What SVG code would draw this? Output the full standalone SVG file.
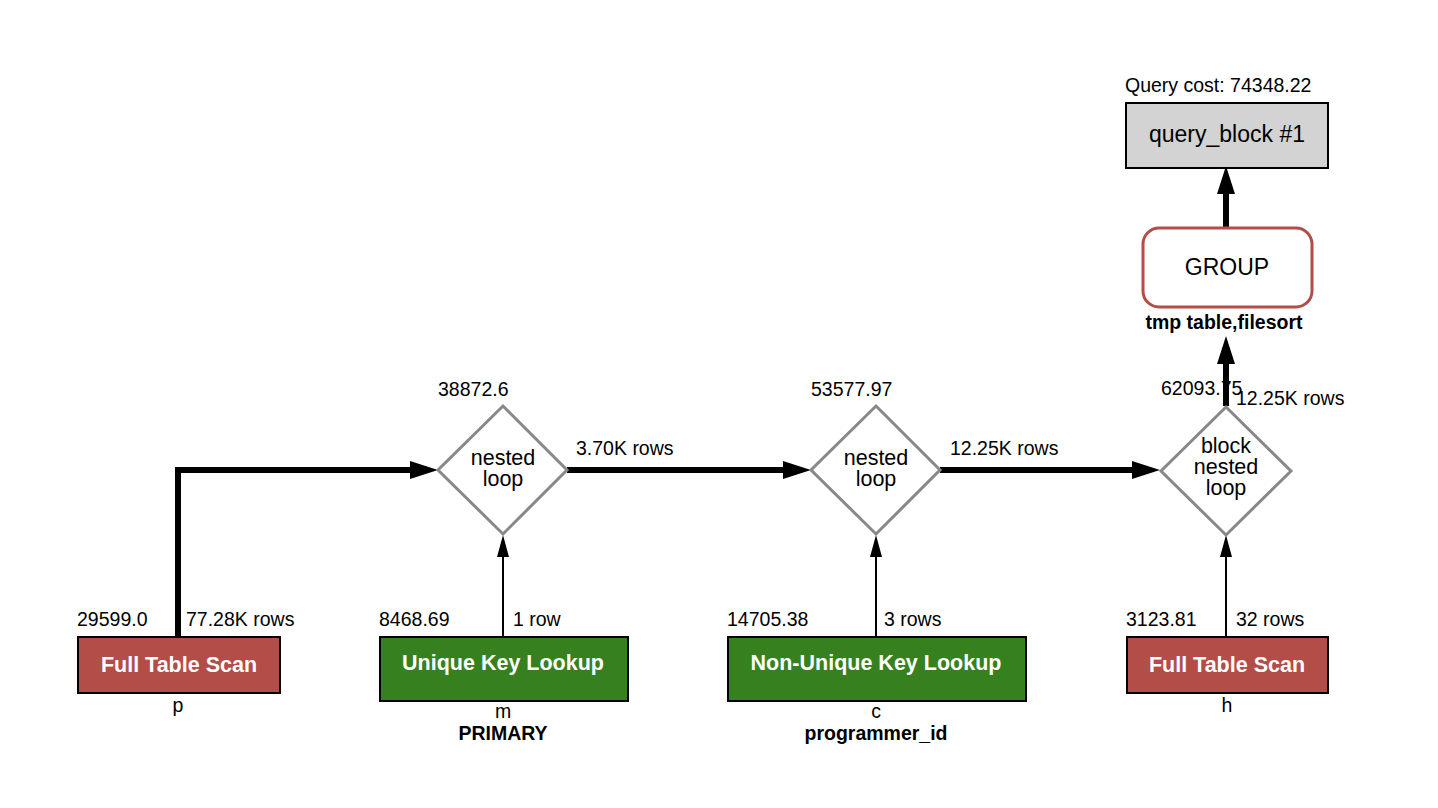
<svg xmlns="http://www.w3.org/2000/svg" width="1438" height="808" viewBox="0 0 1438 808">
<style>
  text { font-family: "Liberation Sans", Arial, Helvetica, sans-serif; fill: #000; }
  .lbl { font-size: 19.5px; }
  .blbl { font-size: 19.5px; font-weight: bold; }
  .title { font-size: 23px; text-anchor: middle; }
  .dtxt { font-size: 21.5px; text-anchor: middle; }
  .btxt { font-size: 21.5px; font-weight: bold; fill: #fff; text-anchor: middle; }
  .mid { text-anchor: middle; }
  .red { fill: #b24d48; stroke: #000; stroke-width: 2; }
  .green { fill: #378020; stroke: #000; stroke-width: 2; }
  .grey { fill: #d3d3d3; stroke: #000; stroke-width: 2; }
  .diamond { fill: #fff; stroke: #888; stroke-width: 3; }
  .thick { fill: none; stroke: #000; stroke-width: 6; marker-end: url(#ah-thick); }
  .thin { fill: none; stroke: #000; stroke-width: 2; marker-end: url(#ah-thin); }
</style>
<defs>
  <marker id="ah-thick" markerUnits="userSpaceOnUse" viewBox="0 0 28 18" refX="0" refY="9" markerWidth="28" markerHeight="18" orient="auto">
    <path d="M0,0 L28,9 L0,18 z" fill="#000"/>
  </marker>
  <marker id="ah-thin" markerUnits="userSpaceOnUse" viewBox="0 0 22 12" refX="0" refY="6" markerWidth="22" markerHeight="12" orient="auto">
    <path d="M0,0 L22,6 L0,12 z" fill="#000"/>
  </marker>
</defs>
<rect width="1438" height="808" fill="#fff"/>

<g id="connectors">
  <polyline class="thick" points="178,637 178,470 410,470"/>
  <line class="thick" x1="567" y1="470" x2="783" y2="470"/>
  <line class="thick" x1="940" y1="470" x2="1132" y2="470"/>
  <line class="thin" x1="503" y1="637" x2="503" y2="557"/>
  <line class="thin" x1="876" y1="637" x2="876" y2="557"/>
  <line class="thin" x1="1226" y1="637" x2="1226" y2="557"/>
  <line class="thick" x1="1226" y1="406" x2="1226" y2="364"/>
  <line class="thick" x1="1226" y1="228" x2="1226" y2="194"/>
  <text class="lbl" x="186" y="626">77.28K rows</text>
  <text class="lbl" x="576" y="455">3.70K rows</text>
  <text class="lbl" x="950" y="455">12.25K rows</text>
  <text class="lbl" x="513" y="626">1 row</text>
  <text class="lbl" x="884" y="626">3 rows</text>
  <text class="lbl" x="1236" y="626">32 rows</text>
  <text class="lbl" x="1236" y="405">12.25K rows</text>
</g>

<g id="query_block">
  <text class="lbl" x="1125" y="92">Query cost: 74348.22</text>
  <rect class="grey" x="1126" y="103" width="202" height="65"/>
  <text class="title" x="1227" y="142">query_block #1</text>
</g>

<g id="group">
  <rect x="1143" y="228" width="169" height="79" rx="16" ry="16" fill="#fff" stroke="#b24d48" stroke-width="3"/>
  <text class="title" x="1227" y="275">GROUP</text>
  <text class="blbl mid" x="1224" y="329">tmp table,filesort</text>
</g>

<g id="nested_loop_1">
  <text class="lbl" x="438" y="396">38872.6</text>
  <polygon class="diamond" points="503,406 567,470 503,534 438,470"/>
  <text class="dtxt" x="503" y="465">nested</text>
  <text class="dtxt" x="503" y="486">loop</text>
</g>

<g id="nested_loop_2">
  <text class="lbl" x="811" y="396">53577.97</text>
  <polygon class="diamond" points="876,406 940,470 876,534 811,470"/>
  <text class="dtxt" x="876" y="465">nested</text>
  <text class="dtxt" x="876" y="486">loop</text>
</g>

<g id="block_nested_loop">
  <text class="lbl" x="1161" y="395">62093.75</text>
  <polygon class="diamond" points="1226,407 1291,471 1226,535 1161,471"/>
  <text class="dtxt" x="1226" y="453">block</text>
  <text class="dtxt" x="1226" y="474">nested</text>
  <text class="dtxt" x="1226" y="495">loop</text>
</g>

<g id="table_p">
  <text class="lbl" x="77" y="626">29599.0</text>
  <rect class="red" x="78" y="637" width="202" height="56"/>
  <text class="btxt" x="179" y="672">Full Table Scan</text>
  <text class="lbl mid" x="178" y="712">p</text>
</g>

<g id="table_m">
  <text class="lbl" x="379" y="626">8468.69</text>
  <rect class="green" x="380" y="637" width="248" height="64"/>
  <text class="btxt" x="503" y="670">Unique Key Lookup</text>
  <text class="lbl mid" x="503" y="718">m</text>
  <text class="blbl mid" x="503" y="740">PRIMARY</text>
</g>

<g id="table_c">
  <text class="lbl" x="727" y="626">14705.38</text>
  <rect class="green" x="728" y="637" width="298" height="64"/>
  <text class="btxt" x="876" y="670">Non-Unique Key Lookup</text>
  <text class="lbl mid" x="876" y="718">c</text>
  <text class="blbl mid" x="876" y="740">programmer_id</text>
</g>

<g id="table_h">
  <text class="lbl" x="1126" y="626">3123.81</text>
  <rect class="red" x="1127" y="637" width="201" height="56"/>
  <text class="btxt" x="1227" y="672">Full Table Scan</text>
  <text class="lbl mid" x="1227" y="712">h</text>
</g>
</svg>
